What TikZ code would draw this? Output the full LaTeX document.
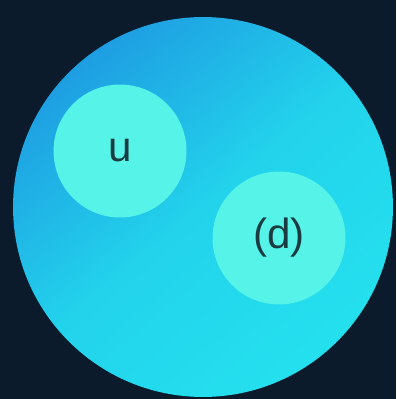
\documentclass[tikz,border=0pt]{standalone}
\usepackage{fontspec}
\setmainfont{Liberation Sans}
\usepackage{tikz}
\usetikzlibrary{positioning}

\definecolor{bgnavy}{HTML}{0B1B2C}
\definecolor{cellblue}{HTML}{1E9EE2}
\definecolor{cellcyan}{HTML}{24E0EE}
\definecolor{bubble}{HTML}{55F3E8}
\definecolor{labeldark}{HTML}{1A3C40}

\begin{document}
\begin{tikzpicture}[
  x=0.02cm, y=-0.02cm,
  cell/.style={circle, draw=none, minimum size=7.6cm, inner sep=0pt,
    top color=cellblue, bottom color=cellcyan, middle color=cellcyan!80!cellblue, shading angle=40},
  bubblenode/.style={circle, draw=none, fill=bubble, minimum size=2.66cm, inner sep=0pt,
    text=labeldark, font=\fontsize{24}{28}\selectfont},
]

% background
\fill[bgnavy] (0,0) rectangle (396,399);
\useasboundingbox (0,0) rectangle (396,399);

% outer cell
\node[cell] (cell) at (203,207) {};

% inner bubbles
\node[bubblenode] (up) at (120,151) {u};
\node[bubblenode] (down) at (279,238) {(d)};

\end{tikzpicture}
\end{document}
